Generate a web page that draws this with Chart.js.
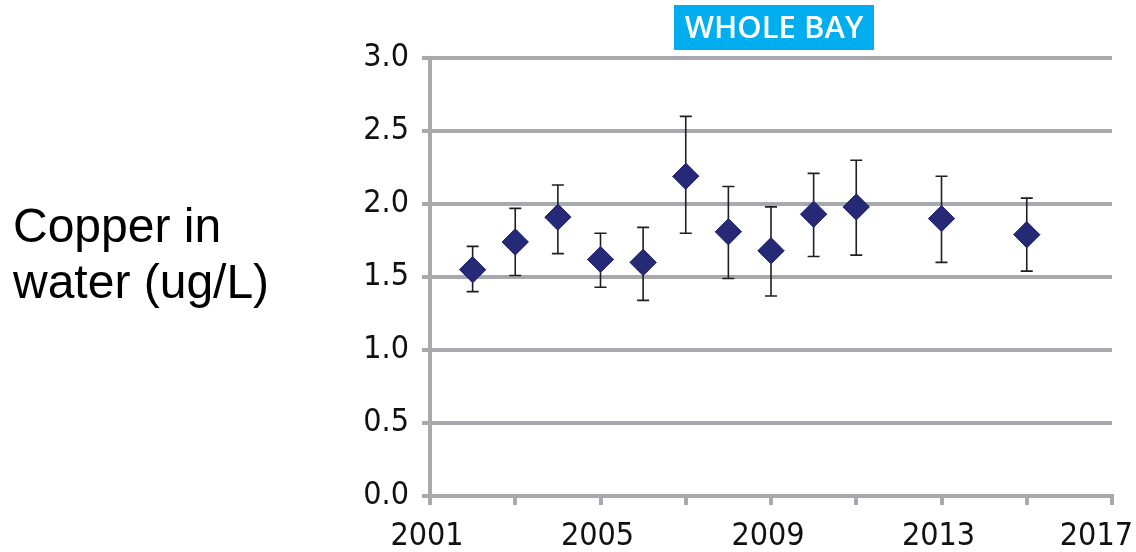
<!DOCTYPE html>
<html>
<head>
<meta charset="utf-8">
<script src="https://cdn.jsdelivr.net/npm/chart.js@4.4.1/dist/chart.umd.min.js"></script>
<style>
  html, body { margin: 0; padding: 0; background: #fff; }
  #wrap { width: 1136px; height: 552px; position: relative; }
</style>
</head>
<body>
<div id="wrap"><canvas id="chart"></canvas></div>
<script>
// values
const years = [2002, 2003, 2004, 2005, 2006, 2007, 2008, 2009, 2010, 2011, 2013, 2015]
const copper = [1.55, 1.74, 1.91, 1.62, 1.60, 2.19, 1.81, 1.68, 1.93, 1.98, 1.90, 1.79]
const upper = [1.71, 1.97, 2.13, 1.80, 1.84, 2.60, 2.12, 1.98, 2.21, 2.30, 2.19, 2.04]
const lower = [1.40, 1.51, 1.66, 1.43, 1.34, 1.80, 1.49, 1.37, 1.64, 1.65, 1.60, 1.54]
const xTickLabels = [2001, 2005, 2009, 2013, 2017]
const titleText = 'WHOLE BAY'
const yTitleLines = ['Copper in', 'water (ug/L)']

const gridGrey = '#a8a9ac'
const labelFamily = '"Liberation Sans Narrow", "DejaVu Sans Condensed", sans-serif'
const tickFont = {family: labelFamily, size: 32}

const errorBars = {
  id: 'errorBars',
  afterDatasetsDraw(chart) {
    const ctx = chart.ctx
    const x = chart.scales.x
    const y = chart.scales.y
    ctx.save()
    ctx.strokeStyle = '#1f1f1f'
    ctx.lineWidth = 1.6
    years.forEach((yr, i) => {
      const px = x.getPixelForValue(yr)
      const top = y.getPixelForValue(upper[i])
      const bot = y.getPixelForValue(lower[i])
      ctx.beginPath()
      ctx.moveTo(px, top); ctx.lineTo(px, bot)
      ctx.moveTo(px - 6, top); ctx.lineTo(px + 6, top)
      ctx.moveTo(px - 6, bot); ctx.lineTo(px + 6, bot)
      ctx.stroke()
    })
    ctx.restore()
  },
  afterDraw(chart) {
    // markers go back on top of the bars
    const meta = chart.getDatasetMeta(0)
    meta.data.forEach(el => el.draw(chart.ctx, chart.chartArea))
  }
}

const decorations = {
  id: 'decorations',
  afterDraw(chart) {
    const ctx = chart.ctx
    const area = chart.chartArea
    const xs = chart.scales.x
    ctx.save()
    // year labels, last one kept inside the canvas
    ctx.fillStyle = '#111'
    ctx.font = '32px ' + labelFamily
    ctx.textAlign = 'center'
    ctx.textBaseline = 'alphabetic'
    xTickLabels.forEach(v => {
      const txt = String(v)
      const w = ctx.measureText(txt).width
      let px = xs.getPixelForValue(v) - 3
      px = Math.min(px, chart.width - 3 - w / 2)
      ctx.fillText(txt, px, 545)
    })
    // title box
    const cx = (area.left + area.right) / 2 + 3
    ctx.fillStyle = '#00aeef'
    ctx.fillRect(cx - 100, 5, 200, 45)
    ctx.fillStyle = '#ffffff'
    ctx.font = '600 31px "Open Sans", "Noto Sans", sans-serif'
    ctx.textAlign = 'center'
    ctx.textBaseline = 'middle'
    ctx.fillText(titleText, cx, 29)
    // y title on the left
    ctx.fillStyle = '#000000'
    ctx.font = '48px "Liberation Sans", Arial, sans-serif'
    ctx.textAlign = 'left'
    ctx.textBaseline = 'alphabetic'
    ctx.fillText(yTitleLines[0], 13, 242)
    ctx.fillText(yTitleLines[1], 13, 298)
    ctx.restore()
  }
}

new Chart(document.getElementById('chart'), {
  type: 'scatter',
  data: {
    datasets: [{
      data: years.map((yr, i) => ({x: yr, y: copper[i]})),
      pointStyle: 'rectRot',
      pointRadius: 13,
      pointHoverRadius: 13,
      backgroundColor: '#262a76',
      borderColor: '#262a76',
      borderWidth: 1
    }]
  },
  options: {
    responsive: true,
    maintainAspectRatio: false,
    animation: false,
    layout: {padding: {top: 58, right: 24, left: 0, bottom: 0}},
    plugins: {
      legend: {display: false},
      tooltip: {enabled: false}
    },
    scales: {
      x: {
        type: 'linear',
        min: 2001,
        max: 2017,
        afterFit(scale) {
          scale.height = 56
          scale.paddingLeft = 0
          scale.paddingRight = 0
        },
        ticks: {
          stepSize: 2,
          autoSkip: false,
          maxRotation: 0,
          font: tickFont,
          callback: () => ''
        },
        grid: {
          drawOnChartArea: false,
          drawTicks: true,
          tickLength: 9,
          color: gridGrey,
          lineWidth: 4
        },
        border: {color: gridGrey, width: 4}
      },
      y: {
        min: 0,
        max: 3,
        afterFit(scale) {
          scale.width = 430
        },
        ticks: {
          stepSize: 0.5,
          color: '#111',
          font: tickFont,
          padding: 13,
          callback: v => v.toFixed(1)
        },
        grid: {
          color: gridGrey,
          lineWidth: 4,
          tickLength: 8
        },
        border: {color: gridGrey, width: 4}
      }
    }
  },
  plugins: [errorBars, decorations]
})
</script>
</body>
</html>
